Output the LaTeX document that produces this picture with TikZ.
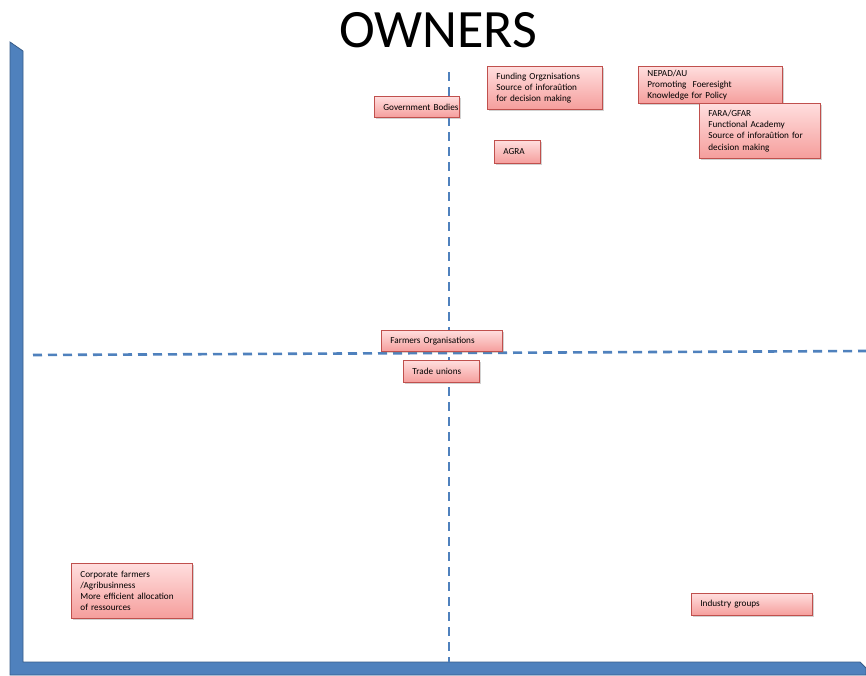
\documentclass[tikz,border=0pt]{standalone}
\usepackage{fontspec}
\setmainfont{Carlito}
\usetikzlibrary{shadows}

\definecolor{axisblue}{RGB}{79,129,189}
\definecolor{axisdark}{RGB}{56,93,138}
\definecolor{boxtop}{RGB}{255,222,222}
\definecolor{boxbot}{RGB}{245,158,156}
\definecolor{boxline}{RGB}{192,80,77}
\newcommand{\actorfont}{\fontsize{9.2}{11.3}\selectfont\hyphenpenalty10000\exhyphenpenalty10000\relax}

\begin{document}
\begin{tikzpicture}[x=1pt, y=-1pt,
    actor/.style={draw=boxline, line width=0.8pt, top color=boxtop, bottom color=boxbot,
      anchor=north west, align=left, inner xsep=9pt, inner ysep=0pt,
      font=\actorfont,
      drop shadow={opacity=0.35, shadow xshift=1.5pt, shadow yshift=-2pt}},
    divider/.style={axisblue, line width=2.6pt, dash pattern=on 9pt off 6pt}]
		\useasboundingbox (0,0) rectangle (866,675);
		\fill[white] (0,0) rectangle (866,675);
		
		\node (title) at (438,30) {\fontsize{54}{60}\selectfont OWNERS};
		
		% axes
		\filldraw[fill=axisblue, draw=axisdark, line width=0.8pt]
		(10,42) -- (23,51) -- (23,662) -- (860,662) -- (866,668) -- (866,675) -- (10,675) -- cycle;
		
		% quadrant lines
		\coordinate (vtop) at (449,72);
		\coordinate (vbot) at (449,662);
		\coordinate (hleft) at (33,355);
		\coordinate (hright) at (866,351);
		\draw[divider] (vtop) -- (vbot);
		\draw[divider] (hleft) -- (hright);
		
		\node[actor, text width=67pt, minimum height=21pt] (gov) at (374,96) {Government~Bodies};
		\node[actor, text width=97pt, minimum height=43pt] (fund) at (487,66) {Funding Orgznisations\\Source of inforaûtion\\for decision making};
		\node[actor, text width=28pt, minimum height=23pt] (agra) at (494,140) {AGRA};
		\node[actor, text width=126pt, minimum height=37pt] (nepad) at (638,66) {NEPAD/AU\\Promoting~ Foeresight\\Knowledge for Policy};
		\node[actor, text width=103pt, minimum height=55pt] (fara) at (699,103) {FARA/GFAR\\Functional Academy\\Source of inforaûtion for\\decision making};
		\node[actor, text width=103pt, minimum height=21pt] (farmers) at (381,330) {Farmers Organisations};
		\node[actor, text width=58pt, minimum height=22pt] (trade) at (403,360) {Trade unions};
		\node[actor, text width=103pt, minimum height=55pt] (corp) at (71,563) {Corporate farmers\\/Agribusinness\\More efficient allocation\\of ressources};
		\node[actor, text width=103pt, minimum height=22pt] (industry) at (691,593) {Industry groups};
	\end{tikzpicture}
\end{document}
